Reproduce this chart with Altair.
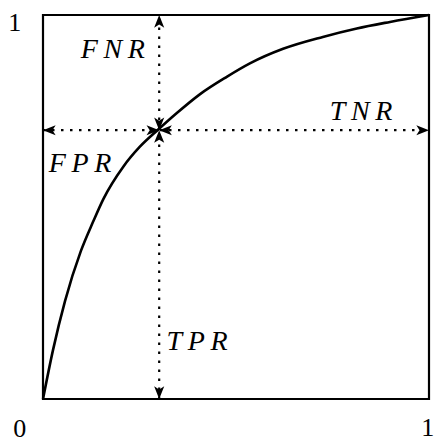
import altair as alt
import pandas as pd

# ROC curve traced through (FPR, TPR) pairs
fpr = [0.0, 0.026, 0.057, 0.098, 0.130, 0.156, 0.208, 0.251, 0.300, 0.346,
       0.407, 0.476, 0.536, 0.622, 0.725, 0.813, 0.899, 1.0]
tpr = [0.0, 0.128, 0.255, 0.385, 0.462, 0.520, 0.605, 0.657, 0.703, 0.744,
       0.794, 0.839, 0.874, 0.912, 0.943, 0.965, 0.982, 1.0]

# operating point on the curve
op_x = 0.301
op_y = 0.700

# rate annotations (centre x, baseline y in unit coordinates)
rate_labels = ["F\u2009N\u2009R", "T\u2009N\u2009R", "F\u2009P\u2009R", "T\u2009P\u2009R"]
rate_x = [0.181, 0.824, 0.096, 0.399]
rate_y = [0.888, 0.727, 0.591, 0.128]

# corner tick labels
tick_labels = ["1", "0", "1"]
tick_x = [-0.073, -0.060, 0.997]
tick_y = [0.958, -0.099, -0.096]

curve = pd.DataFrame({"x": fpr, "y": tpr})
rules = pd.DataFrame({
    "x": [op_x, 0.0], "x2": [op_x, 1.0],
    "y": [0.0, op_y], "y2": [1.0, op_y],
})
# arrow tips: outer ends and the four heads meeting at the operating point
heads = pd.DataFrame({
    "x": [op_x, op_x, 0.0, 1.0, op_x, op_x, op_x, op_x],
    "y": [1.0, 0.0, op_y, op_y, op_y, op_y, op_y, op_y],
    "angle": [0, 180, 270, 90, 180, 0, 90, 270],
})
rates = pd.DataFrame({"label": rate_labels, "x": rate_x, "y": rate_y})
ticks = pd.DataFrame({"label": tick_labels, "x": tick_x, "y": tick_y})

xs = alt.Scale(domain=[0, 1], nice=False, zero=False)
ys = alt.Scale(domain=[0, 1], nice=False, zero=False)

serif = "Liberation Serif"
arrow_path = "M0,0 L0.8,2 L0,1.5 L-0.8,2 Z"

dotted = alt.Chart(rules).mark_rule(
    color="black", strokeWidth=2.2, strokeDash=[2.5, 6.5], strokeCap="butt"
).encode(
    x=alt.X("x:Q", scale=xs, axis=None), x2="x2:Q",
    y=alt.Y("y:Q", scale=ys, axis=None), y2="y2:Q",
)

line = alt.Chart(curve).mark_line(
    color="black", strokeWidth=2.6, interpolate="monotone"
).encode(
    x=alt.X("x:Q", scale=xs, axis=None),
    y=alt.Y("y:Q", scale=ys, axis=None),
)

arrows = alt.Chart(heads).mark_point(
    shape=arrow_path, filled=True, color="black", opacity=1, size=160, strokeWidth=0
).encode(
    x=alt.X("x:Q", scale=xs, axis=None),
    y=alt.Y("y:Q", scale=ys, axis=None),
    angle=alt.Angle("angle:Q", scale=None),
)

rate_text = alt.Chart(rates).mark_text(
    font=serif, fontStyle="italic", fontSize=28,
    align="center", baseline="alphabetic", color="black",
).encode(
    x=alt.X("x:Q", scale=xs, axis=None),
    y=alt.Y("y:Q", scale=ys, axis=None),
    text="label:N",
)

tick_text = alt.Chart(ticks).mark_text(
    font=serif, fontSize=26,
    align="center", baseline="alphabetic", color="black",
).encode(
    x=alt.X("x:Q", scale=xs, axis=None),
    y=alt.Y("y:Q", scale=ys, axis=None),
    text="label:N",
)

chart = alt.layer(dotted, line, arrows, rate_text, tick_text).properties(
    width=386, height=384,
    autosize=alt.AutoSizeParams(type="none"),
    padding={"left": 43, "top": 15, "right": 6, "bottom": 44},
).configure_view(
    stroke="black", strokeWidth=2.2
)

chart.save("out.html", embed_options={"renderer": "svg", "actions": False})
